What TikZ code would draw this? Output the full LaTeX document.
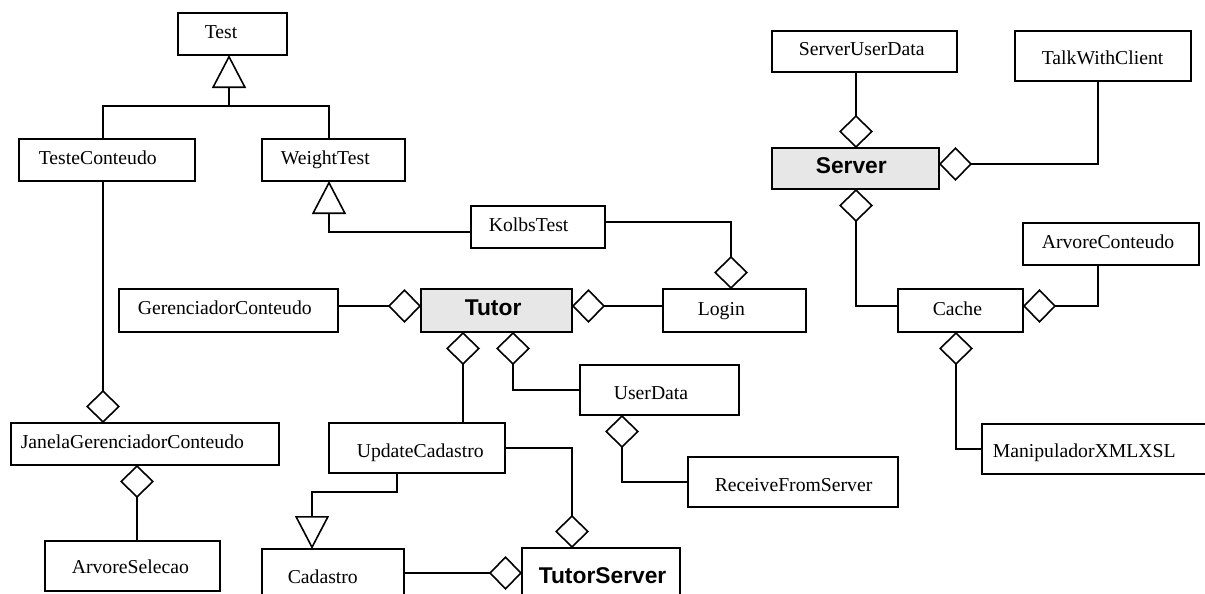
\documentclass[tikz,border=0pt]{standalone}
\usepackage{fontspec}
\setmainfont{Liberation Serif}
\newfontfamily\arialfam{Liberation Sans}
\usetikzlibrary{arrows.meta}
\definecolor{boxgray}{RGB}{230,231,230}
\begin{document}
\begin{tikzpicture}[x=1pt,y=-1pt, line width=1.6pt,
  box/.style={draw, fill=white, inner sep=0pt, outer sep=0pt, anchor=north west},
  hl/.style={fill=boxgray},
  lbl/.style={inner sep=0pt, anchor=base west, font=\fontsize{19.7}{22}\selectfont},
  blbl/.style={inner sep=0pt, anchor=base west, font=\arialfam\bfseries\fontsize{22.8}{26}\selectfont},
  link/.style={draw, line join=miter},
  gen/.style={-{Triangle[open, length=33pt, width=34pt]}},
  agg/.style={-{Diamond[open, length=33pt, width=34pt]}}
]
\useasboundingbox (0,0) rectangle (1205,594);
\clip (0,0) rectangle (1205,594);

% boxes
\node[box, minimum width=109pt, minimum height=42pt] (test) at (178,13) {};
\node[box, minimum width=176pt, minimum height=42pt] (testec) at (19,139) {};
\node[box, minimum width=143pt, minimum height=42pt] (weight) at (262,139) {};
\node[box, minimum width=134pt, minimum height=42pt] (kolbs) at (471,206) {};
\node[box, minimum width=185pt, minimum height=41pt] (sud) at (772,31) {};
\node[box, minimum width=176pt, minimum height=50pt] (twc) at (1015,31) {};
\node[box, hl, minimum width=167pt, minimum height=41pt] (server) at (772,148) {};
\node[box, minimum width=176pt, minimum height=42pt] (arvc) at (1023,223) {};
\node[box, minimum width=219pt, minimum height=43pt] (gerenc) at (119,289) {};
\node[box, hl, minimum width=151pt, minimum height=43pt] (tutor) at (421,289) {};
\node[box, minimum width=143pt, minimum height=43pt] (login) at (663,289) {};
\node[box, minimum width=125pt, minimum height=43pt] (cache) at (898,289) {};
\node[box, minimum width=159pt, minimum height=50pt] (userdata) at (580,365) {};
\node[box, minimum width=268pt, minimum height=42pt] (janela) at (11,423) {};
\node[box, minimum width=176pt, minimum height=50pt] (upd) at (329,423) {};
\node[box, minimum width=240pt, minimum height=50pt] (manip) at (982,424) {};
\node[box, minimum width=210pt, minimum height=50pt] (rfs) at (688,457) {};
\node[box, minimum width=175pt, minimum height=50pt] (arvs) at (45,541) {};
\node[box, minimum width=142pt, minimum height=60pt] (cadastro) at (262,549) {};
\node[box, minimum width=158pt, minimum height=60pt] (tserver) at (522,548) {};

% labels
\node[lbl] (test-t) at (204,39) {Test};
\node[lbl] (testec-t) at (38,164) {TesteConteudo};
\node[lbl] (weight-t) at (280,164) {WeightTest};
\node[lbl] (kolbs-t) at (488,231) {KolbsTest};
\node[lbl] (sud-t) at (798,56) {ServerUserData};
\node[lbl] (twc-t) at (1041,64) {TalkWithClient};
\node[blbl] (server-t) at (815,173) {Server};
\node[lbl] (arvc-t) at (1041,248) {ArvoreConteudo};
\node[lbl] (gerenc-t) at (137,314) {GerenciadorConteudo};
\node[blbl] (tutor-t) at (464,315) {Tutor};
\node[lbl] (login-t) at (697,315) {Login};
\node[lbl] (cache-t) at (932,315) {Cache};
\node[lbl] (userdata-t) at (613,399) {UserData};
\node[lbl] (janela-t) at (20,448) {JanelaGerenciadorConteudo};
\node[lbl] (upd-t) at (356,457) {UpdateCadastro};
\node[lbl] (manip-t) at (992,457) {ManipuladorXMLXSL};
\node[lbl] (rfs-t) at (714,491) {ReceiveFromServer};
\node[lbl] (arvs-t) at (71,573) {ArvoreSelecao};
\node[lbl] (cadastro-t) at (287,583) {Cadastro};
\node[blbl] (tserver-t) at (538,583) {TutorServer};

% connector bend points
\coordinate (g1) at (103,106);
\coordinate (g2) at (329,106);
\coordinate (g3) at (229,106);
\coordinate (k1) at (329,232);
\coordinate (k2) at (731,222);
\coordinate (t1) at (0,306);
\coordinate (t2) at (463,0);
\coordinate (t3) at (513,390);
\coordinate (u1) at (622,482);
\coordinate (u2) at (572,448);
\coordinate (c1) at (0,573);
\coordinate (u3) at (397,492);
\coordinate (u4) at (312,492);
\coordinate (j1) at (103,0);
\coordinate (j2) at (137,0);
\coordinate (s1) at (856,0);
\coordinate (s2) at (1098,164);
\coordinate (s3) at (856,306);
\coordinate (s4) at (1098,306);
\coordinate (s5) at (956,449);

% generalizations
\draw[link] (g1 |- testec.north) -- (g1) -- (g2) -- (g2 |- weight.north);
\draw[link,gen] (g3) -- (g3 |- test.south);
\draw[link,gen] (kolbs.west |- k1) -- (k1) -- (k1 |- weight.south);
\draw[link,gen] (u3 |- upd.south) -- (u3) -- (u4) -- (u4 |- cadastro.north);

% aggregations
\draw[link,agg] (kolbs.east |- k2) -- (k2) -- (k2 |- login.north);
\draw[link,agg] (gerenc.east |- t1) -- (tutor.west |- t1);
\draw[link,agg] (login.west |- t1) -- (tutor.east |- t1);
\draw[link,agg] (t2 |- upd.north) -- (t2 |- tutor.south);
\draw[link,agg] (userdata.west |- t3) -- (t3) -- (t3 |- tutor.south);
\draw[link,agg] (rfs.west |- u1) -- (u1) -- (u1 |- userdata.south);
\draw[link,agg] (upd.east |- u2) -- (u2) -- (u2 |- tserver.north);
\draw[link,agg] (cadastro.east |- c1) -- (tserver.west |- c1);
\draw[link,agg] (j1 |- testec.south) -- (j1 |- janela.north);
\draw[link,agg] (j2 |- arvs.north) -- (j2 |- janela.south);
\draw[link,agg] (s1 |- sud.south) -- (s1 |- server.north);
\draw[link,agg] (s2 |- twc.south) -- (s2) -- (server.east |- s2);
\draw[link,agg] (cache.west |- s3) -- (s3) -- (s3 |- server.south);
\draw[link,agg] (s4 |- arvc.south) -- (s4) -- (cache.east |- s4);
\draw[link,agg] (manip.west |- s5) -- (s5) -- (s5 |- cache.south);
\end{tikzpicture}
\end{document}
